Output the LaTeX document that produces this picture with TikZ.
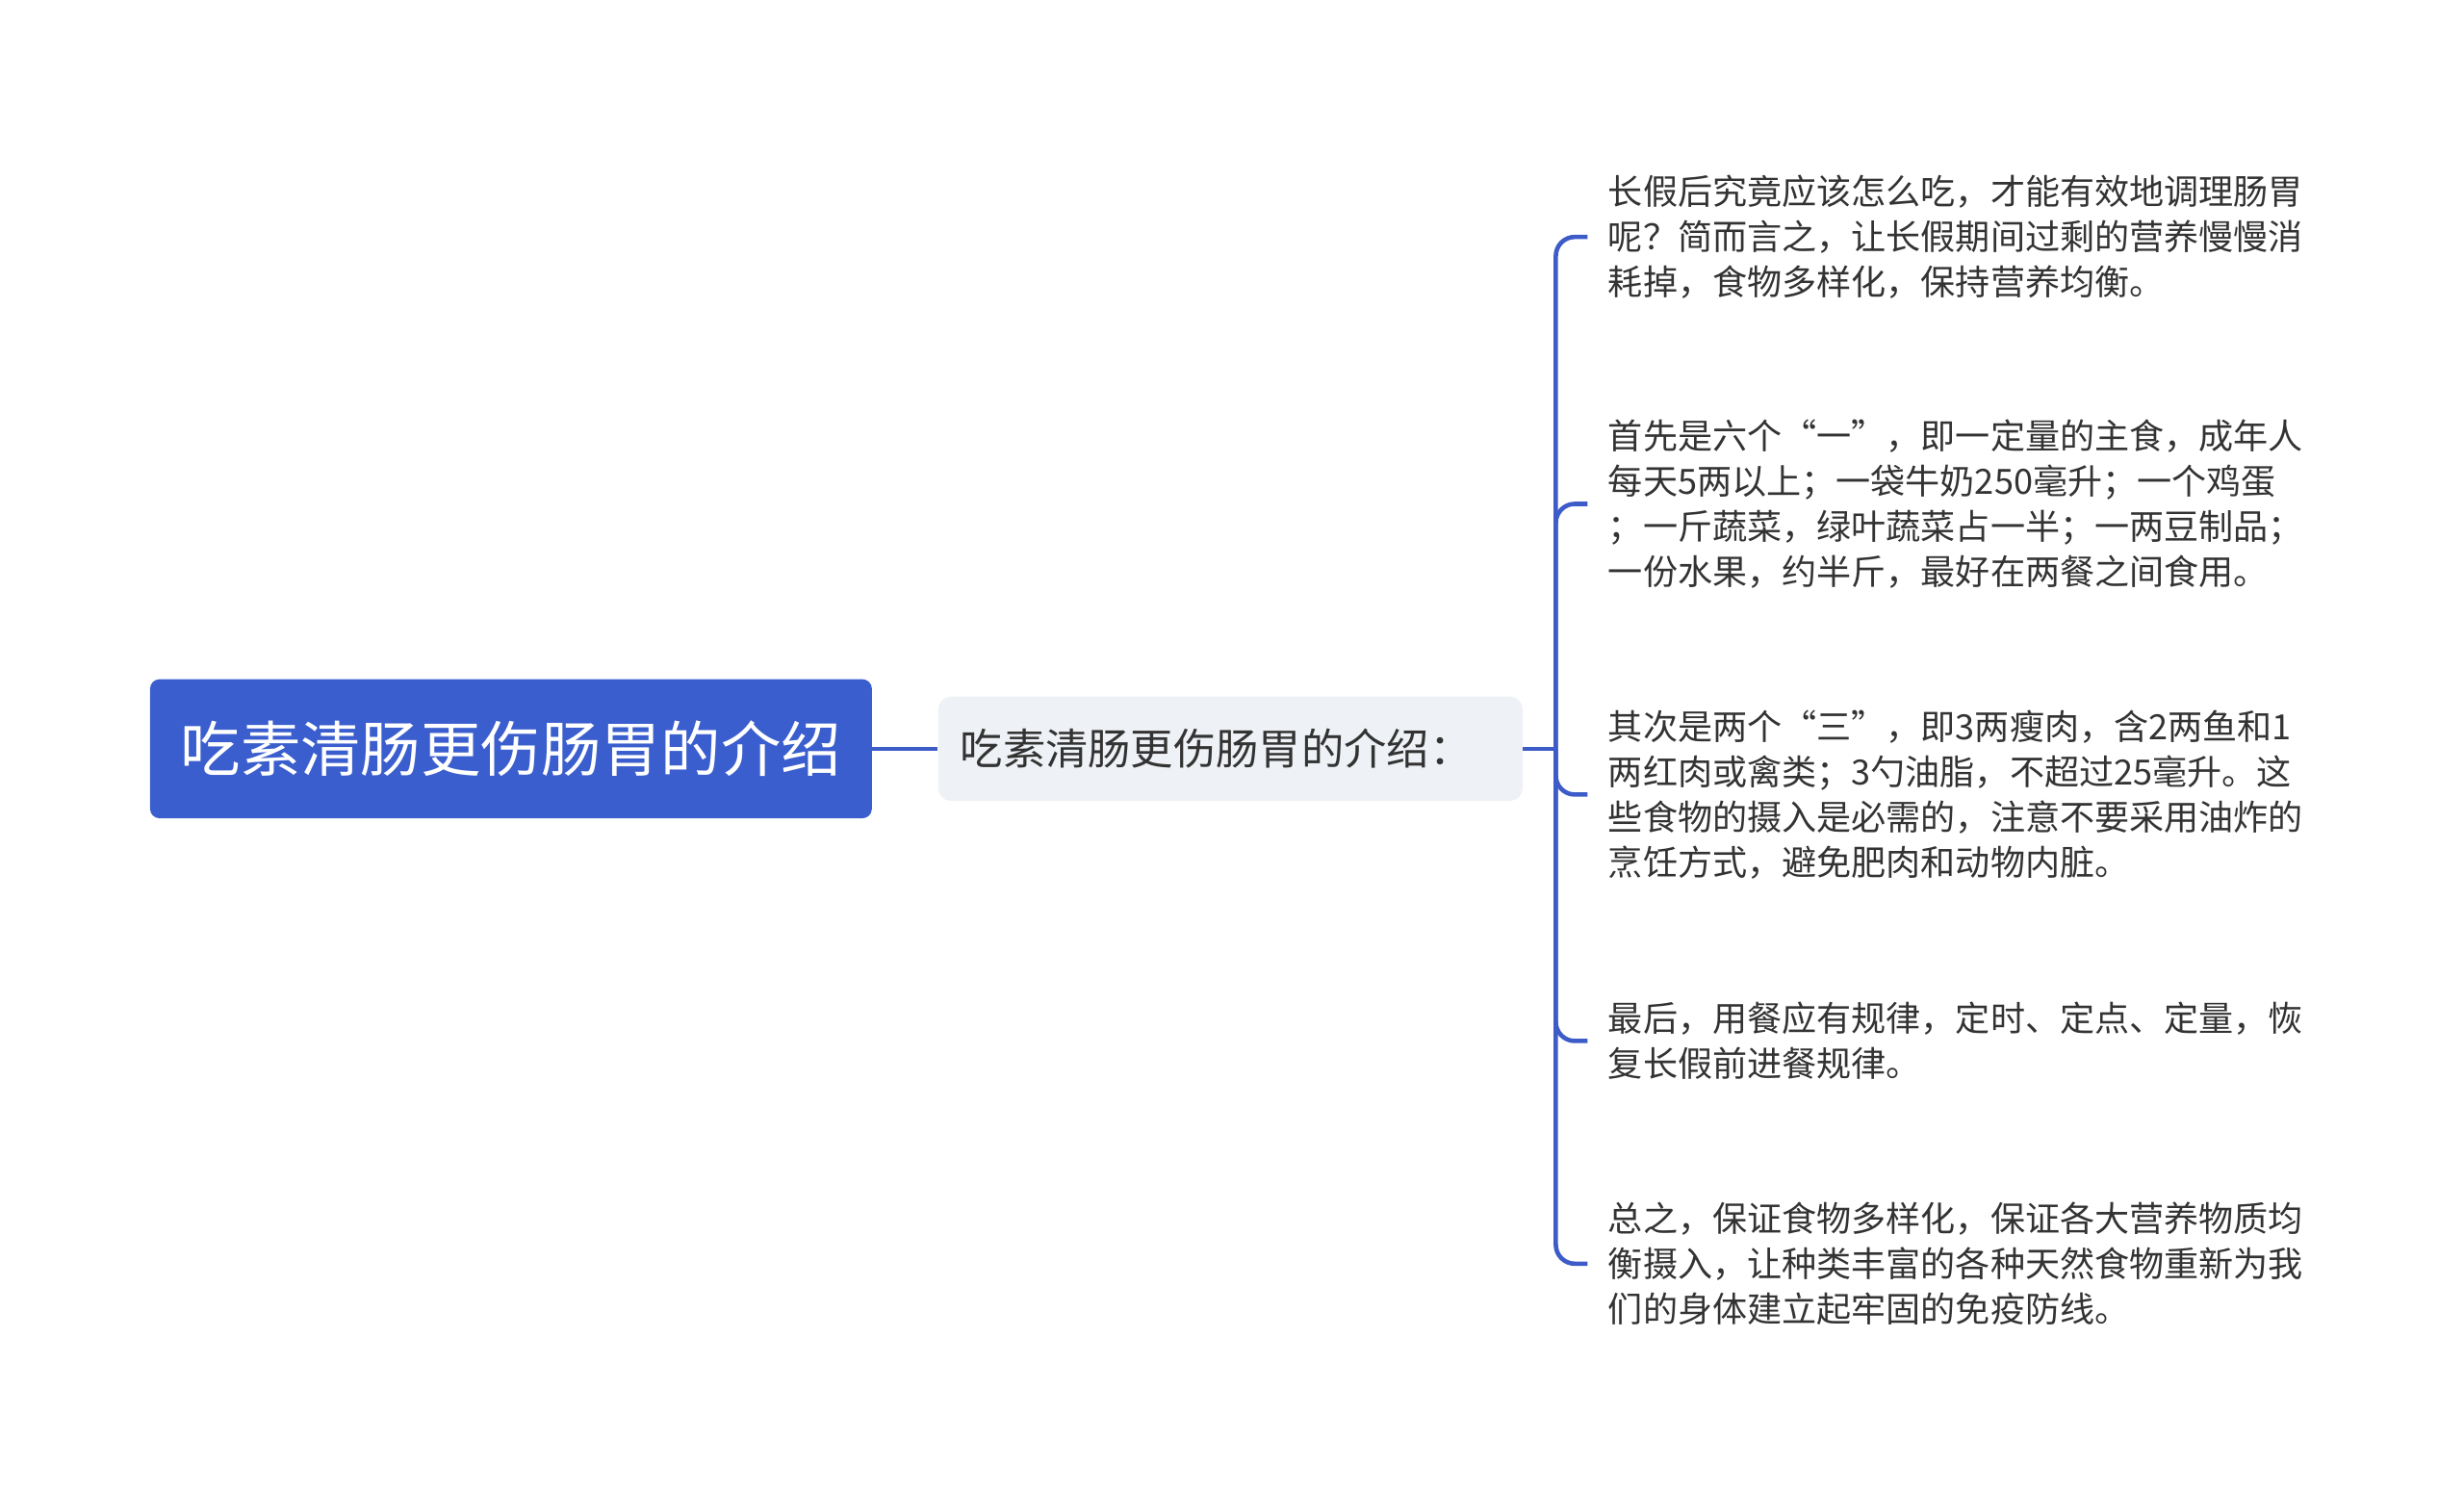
\documentclass[tikz,border=0pt]{standalone}
\usepackage{fontspec}
\setmainfont{Noto Sans CJK SC}
\definecolor{rootblue}{HTML}{3B5ECE}
\definecolor{linkblue}{HTML}{3D5CC8}
\definecolor{subfill}{HTML}{EEF1F5}
\definecolor{txt}{HTML}{333333}
\tikzset{
  rootbox/.style={draw=none, fill=rootblue, rounded corners=6pt, text=white,
    minimum width=457pt, minimum height=88pt, inner sep=0pt,
    font=\fontsize{38}{46}\selectfont},
  subbox/.style={draw=none, fill=subfill, rounded corners=8pt, text=txt,
    minimum height=66pt, text width=342pt, inner xsep=14pt, inner ysep=0pt, align=left,
    font=\fontsize{27}{32}\selectfont},
  leaf/.style={anchor=west, inner sep=0pt, text=txt, align=left,
    font=\fontsize{22}{28.7}\selectfont},
  conn/.style={draw=linkblue, line width=2.8pt},
  bracket/.style={conn, rounded corners=12pt}
}
\begin{document}
\begin{tikzpicture}[x=1pt, y=-1pt]
\useasboundingbox (0,0) rectangle (1560,944);
\node[rootbox] (root) at (323.5,474) {吃素清肠更伤肠胃的介绍};
\node[subbox] (sub) at (779,474) {吃素清肠更伤肠胃的介绍：};
\coordinate (j) at (985,474);
\node[leaf] (l1) at (1018,150) {长假后究竟应该怎么吃，才能有效地调理肠胃\\呢？简而言之，让长假期间过剩的营养慢慢消\\耗掉，食物多样化，保持营养均衡。};
\node[leaf] (l2) at (1018,319) {首先是六个“一”，即一定量的主食，成年人\\每天5两以上；一袋牛奶250毫升；一个鸡蛋\\；一斤蔬菜，绿叶蔬菜占一半；一两豆制品；\\一份水果，约半斤，最好在两餐之间食用。};
\node[leaf] (l3) at (1018,503) {其次是两个“三”，即3两瘦肉，含2两鱼和1\\两红肉或禽类；3勺油脂，不超过25毫升。这\\些食物的摄入是必需的，注意不要采用油炸的\\烹饪方式，避免肥肉和动物内脏。};
\node[leaf] (l4) at (1018,659) {最后，用餐应有规律，定时、定点、定量，恢\\复长假前进餐规律。};
\node[leaf] (l5) at (1018,800) {总之，保证食物多样化，保证各大营养物质均\\衡摄入，让种类丰富的各种天然食物重新为我\\们的身体建立起牢固的免疫防线。};
\draw[conn] (root.east) -- (sub.west);
\draw[conn] (sub.east) -- (j);
\foreach \l in {l1,l2,l3,l4,l5}
  \draw[bracket] (j) |- ([xshift=-13pt]\l.west);
\end{tikzpicture}
\end{document}
